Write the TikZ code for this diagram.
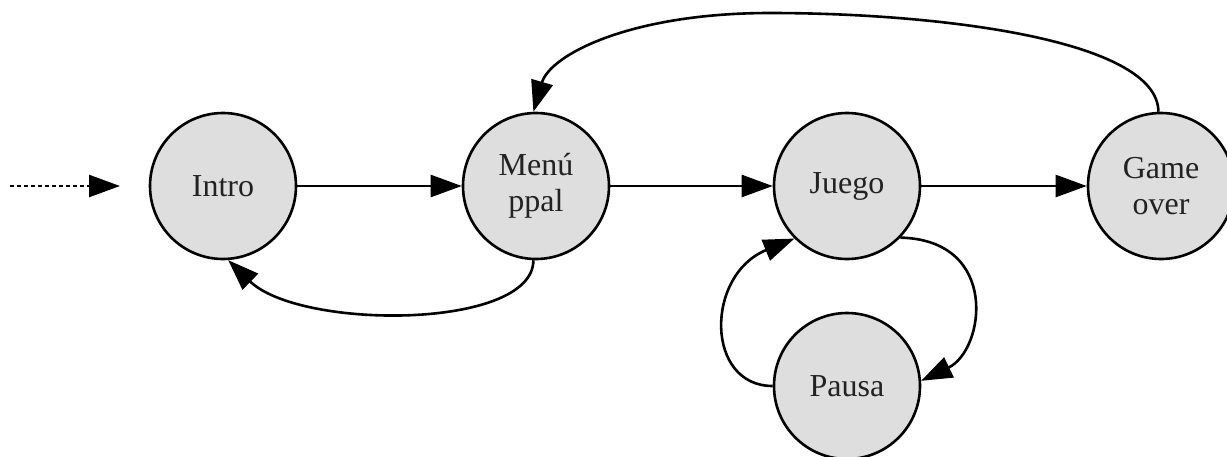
\documentclass[tikz,border=0pt]{standalone}
\usepackage{fontspec}
\setmainfont{Liberation Serif}
\usetikzlibrary{arrows.meta}
\definecolor{nodefill}{RGB}{222,222,222}
\definecolor{textcol}{RGB}{34,34,34}
\tikzset{
  state/.style={circle, draw=black, line width=2.6pt, fill=nodefill, minimum size=146pt, inner sep=0pt,
    align=center, text=textcol, font=\fontsize{32}{36}\selectfont},
  conn/.style={line width=2.6pt, -{Triangle[length=31pt,width=22pt]}},
}
\begin{document}
\begin{tikzpicture}[x=1pt,y=-1pt]
\useasboundingbox (0,0) rectangle (1227,456);
\node[state] (intro) at (223,186) {Intro};
\node[state] (menu) at (536,186) {Menú\\ppal};
\node[state] (juego) at (847,186) {Juego};
\node[state] (over) at (1161,186) {Game\\over};
\node[state] (pausa) at (847,386) {Pausa};
\coordinate (start) at (10,186);
\coordinate (arr) at (120,186);

\draw[conn, dash pattern=on 4pt off 3pt] (start) -- (arr);
\draw[conn] (intro) -- (menu);
\draw[conn] (menu) -- (juego);
\draw[conn] (juego) -- (over);
\draw[conn] (menu.-92) .. controls (533,330) and (300,330) .. (intro.-86);
\draw[conn] (over.92) .. controls (1158,40) and (940,13) .. (770,13)
   .. controls (630,13) and (550,55) .. (menu.92);
\draw[conn] (juego.-44) .. controls (1000,240) and (985,350) .. (pausa.4);
\draw[conn] (pausa.west) .. controls (705,386) and (705,275) .. (juego.-135);
\end{tikzpicture}
\end{document}
